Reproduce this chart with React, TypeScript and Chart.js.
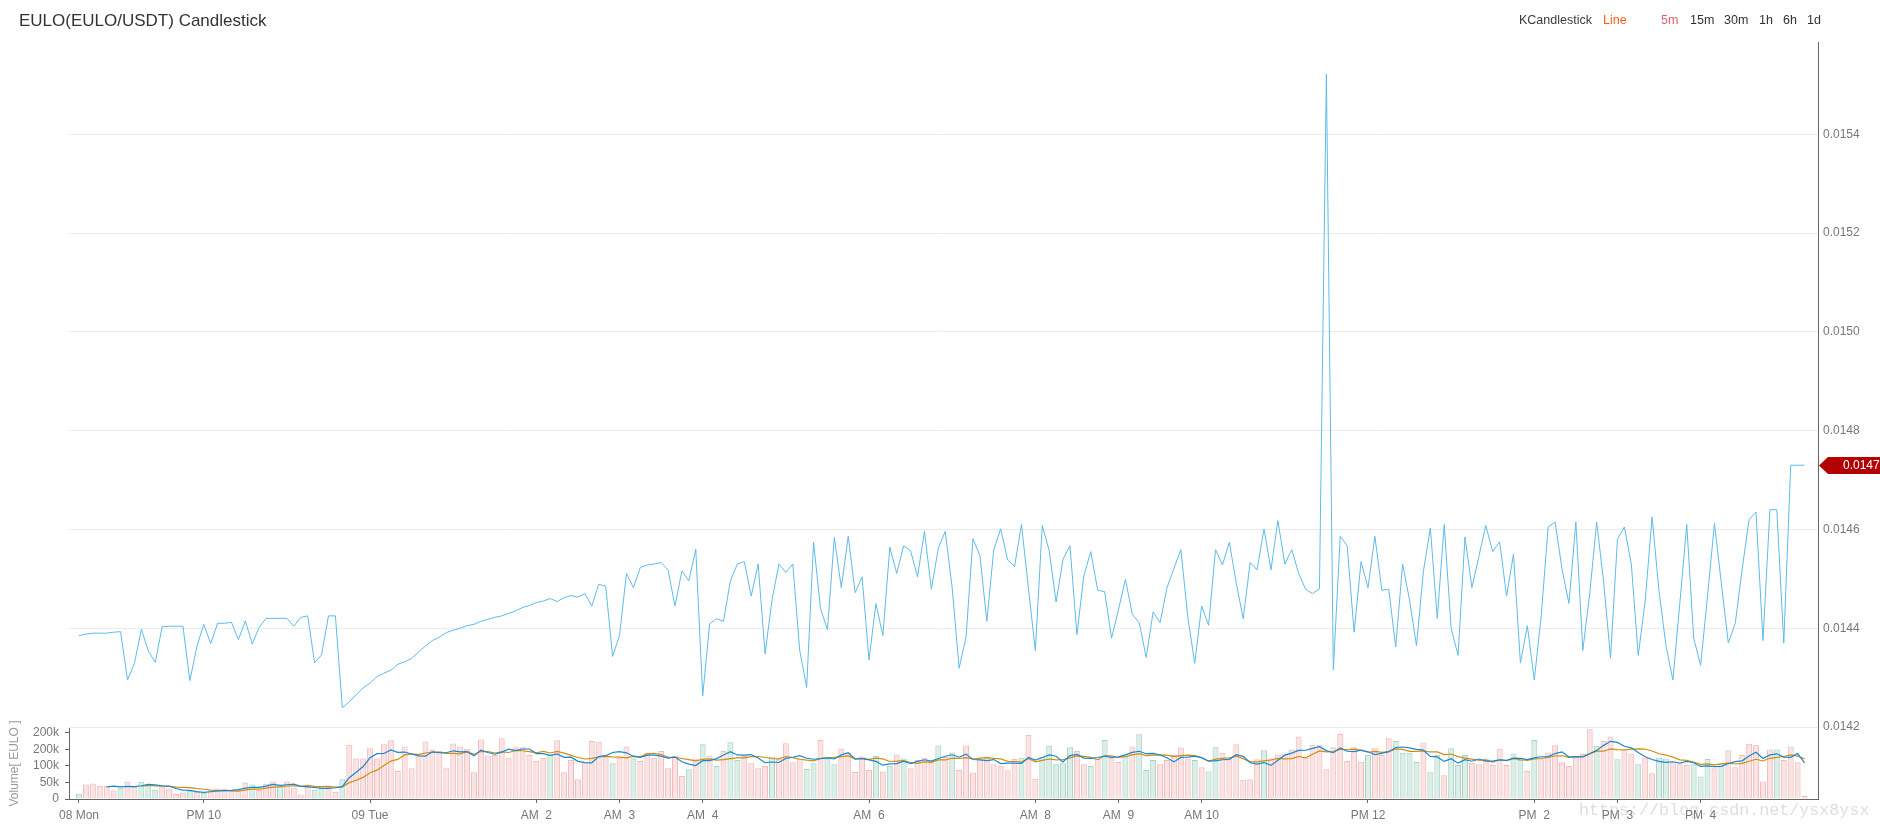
import { useEffect, useRef } from 'react';
import { Chart, registerables } from 'chart.js';

Chart.register(...registerables);

// ---- Data ----
const priceValues = [
  0.014385, 0.014388, 0.01439, 0.01439, 0.01439, 0.014392, 0.014393, 0.014295, 0.014329, 0.014398,
  0.014354, 0.014331, 0.014403, 0.014404, 0.014404, 0.014404, 0.014294, 0.014362, 0.014408, 0.014369,
  0.01441, 0.01441, 0.014412, 0.014377, 0.014415, 0.014368, 0.014402, 0.01442, 0.01442, 0.01442,
  0.01442, 0.014404, 0.014422, 0.014425, 0.01433, 0.014346, 0.014425, 0.014425, 0.014239, 0.014251,
  0.014265, 0.014279, 0.014289, 0.014302, 0.014309, 0.014315, 0.014327, 0.014332, 0.014339, 0.014352,
  0.014364, 0.014375, 0.014382, 0.014391, 0.014396, 0.0144, 0.014405, 0.014408, 0.014414, 0.014418,
  0.014422, 0.014425, 0.01443, 0.014435, 0.014442, 0.014446, 0.014452, 0.014455, 0.01446, 0.014454,
  0.014462, 0.014466, 0.014463, 0.01447, 0.014445, 0.014489, 0.014485, 0.014343, 0.014385, 0.014511,
  0.014482, 0.014523, 0.014528, 0.01453, 0.014533, 0.014518, 0.014445, 0.014516, 0.014496, 0.01456,
  0.014263, 0.014409, 0.014419, 0.014414, 0.014496, 0.01453, 0.014535, 0.014465, 0.01453, 0.014348,
  0.014457, 0.01453, 0.014513, 0.01453, 0.014355, 0.01428, 0.014574, 0.01444, 0.014397, 0.014584,
  0.014482, 0.014586, 0.014472, 0.014504, 0.014336, 0.01445, 0.014385, 0.014564, 0.014511, 0.014567,
  0.014557, 0.014504, 0.014596, 0.014479, 0.014562, 0.014596, 0.014482, 0.014319, 0.014382, 0.014581,
  0.014547, 0.014414, 0.014559, 0.014601, 0.014538, 0.014525, 0.01461, 0.014482, 0.014355, 0.014608,
  0.014557, 0.014453, 0.01454, 0.014567, 0.014387, 0.014506, 0.014555, 0.014477, 0.014474, 0.01438,
  0.014438, 0.014499, 0.014428, 0.014411, 0.014341, 0.014433, 0.014411, 0.014482, 0.014521, 0.014559,
  0.014423, 0.014329, 0.014445, 0.014406, 0.014559, 0.014528, 0.014574, 0.014491, 0.014419, 0.014533,
  0.014518, 0.014601, 0.014518, 0.014618, 0.01453, 0.014559, 0.014511, 0.014479, 0.01447, 0.01448,
  0.015521, 0.014316, 0.014586, 0.014567, 0.014392, 0.014535, 0.014482, 0.014586, 0.014477, 0.014479,
  0.014362, 0.01453, 0.014457, 0.014365, 0.014515, 0.014603, 0.01442, 0.01461, 0.0144, 0.014345,
  0.014585, 0.014482, 0.014545, 0.014608, 0.014555, 0.014575, 0.014465, 0.01455, 0.01433, 0.014405,
  0.014295, 0.014425, 0.014605, 0.014615, 0.01452, 0.01445, 0.014615, 0.014355, 0.01447, 0.014615,
  0.014495, 0.01434, 0.01458, 0.014605, 0.01453, 0.014345, 0.014455, 0.014625, 0.014475, 0.014365,
  0.014295, 0.01445, 0.01461, 0.01438, 0.014325, 0.014465, 0.014612, 0.01449, 0.01437, 0.01441,
  0.01452, 0.01462, 0.014635, 0.014375, 0.01464, 0.01464, 0.01437, 0.01473, 0.01473, 0.01473,
];

// volume in thousands of EULO
const volumeK = [
  16, 44, 47, 39, 39, 26, 34, 52, 37, 52,
  45, 29, 38, 32, 15, 20, 25, 21, 19, 25,
  32, 30, 26, 28, 50, 44, 27, 46, 53, 37,
  53, 35, 14, 44, 28, 40, 36, 22, 60, 164,
  123, 123, 154, 123, 166, 178, 85, 159, 93, 138,
  174, 150, 145, 93, 168, 159, 152, 81, 180, 132,
  133, 184, 126, 157, 157, 133, 115, 124, 133, 178,
  81, 118, 60, 113, 176,
  174, 133, 108, 125, 159, 123, 115, 141, 125, 145,
  93, 131, 70, 90, 123, 166, 132, 100, 145, 172,
  118, 130, 108, 93, 100, 129, 123, 169, 111, 123,
  91, 108, 179, 123, 105, 153, 141, 82, 129, 88,
  130, 83, 101, 135, 123, 93, 118, 125, 115, 162,
  127, 141, 88, 162, 80, 121, 129, 105, 101, 87,
  121, 125, 194, 61, 127, 161, 105, 108, 157, 145,
  105, 100, 121, 179, 125, 112, 131, 159, 196, 88,
  118, 105, 118, 133, 156, 123, 118, 96, 83, 157,
  140, 125, 166, 58,
  60,
  120, 148, 123, 135, 138, 150, 189, 126, 164, 164,
  90, 157, 197, 115, 157, 113, 133, 154, 133, 184,
  176, 140, 140, 112, 171, 81, 133, 72, 154, 103,
  133, 110, 105, 123, 103, 152, 103, 138, 118, 85,
  179, 120, 141, 163, 111, 100, 128, 136, 211, 161,
  176, 189, 120, 152, 138, 105, 125, 78, 125, 123,
  113, 105, 103, 105, 68, 121, 93, 108, 148, 96,
  133, 167, 164, 53, 150, 150, 118, 159, 111, 9,
];

// indices of the falling (green) volume bars; all others are rising (pink)
const fallingBars = [
  0, 6, 9, 10, 11, 16, 18, 25, 29, 34, 35, 38, 68,
  77, 80, 88, 90, 92, 94, 95, 100, 105, 106, 108, 109, 115, 117, 119, 124, 126,
  136, 139, 140, 141, 142, 143, 146, 148, 151, 153, 154, 155, 161, 163, 164,
  171, 186, 190, 191, 192, 193, 195, 196, 198, 199, 200, 207, 208, 210, 219,
  222, 225, 228, 229, 233, 234, 235, 237, 245,
];

const xTickIndex = [0, 18, 42, 66, 78, 90, 114, 138, 150, 162, 186, 210, 222, 234];
const xTickLabels = ['08 Mon', 'PM 10', '09 Tue', 'AM  2', 'AM  3', 'AM  4', 'AM  6', 'AM  8', 'AM  9', 'AM 10', 'PM 12', 'PM  2', 'PM  3', 'PM  4'];
const priceTicks = [0.0142, 0.0144, 0.0146, 0.0148, 0.015, 0.0152, 0.0154];
const volumeTicks = [0, 50000, 100000, 150000, 200000];
const volumeTickLabels = ['0', '50k', '100k', '200k', '200k'];
const periodButtons = ['5m', '15m', '30m', '1h', '6h', '1d'];

const FONT = '"Liberation Sans", Arial, sans-serif';

function movingAverage(values: number[], n: number) {
  const out: { x: number; y: number }[] = [];
  for (let i = n - 1; i < values.length; i++) {
    let s = 0;
    for (let j = i - n + 1; j <= i; j++) s += values[j];
    out.push({ x: i, y: (s / n) * 1000 });
  }
  return out;
}

const lastPricePlugin = {
  id: 'lastPrice',
  afterDraw(chart: any) {
    const s = chart.scales.yPrice;
    const ctx = chart.ctx;
    const v = priceValues[priceValues.length - 1];
    const y = Math.round(s.getPixelForValue(v)) + 0.5;
    const x0 = s.left + 1;
    const h = 8.5;
    ctx.save();
    ctx.fillStyle = '#b30000';
    ctx.beginPath();
    ctx.moveTo(x0, y);
    ctx.lineTo(x0 + 9, y - h);
    ctx.lineTo(chart.width, y - h);
    ctx.lineTo(chart.width, y + h);
    ctx.lineTo(x0 + 9, y + h);
    ctx.closePath();
    ctx.fill();
    ctx.fillStyle = '#ffffff';
    ctx.font = '12px ' + FONT;
    ctx.textBaseline = 'middle';
    ctx.textAlign = 'left';
    ctx.fillText(v.toFixed(4), x0 + 24, y + 0.5);
    ctx.restore();
  },
};

export default function App() {
  const ref = useRef<HTMLCanvasElement>(null);

  useEffect(() => {
    const canvas = ref.current;
    if (!canvas) return;
    const falling = new Set(fallingBars);
    const barBg = volumeK.map((_, i) => (falling.has(i) ? 'rgba(190,225,214,0.55)' : 'rgba(246,200,200,0.5)'));
    const barBorder = volumeK.map((_, i) => (falling.has(i) ? 'rgba(160,205,190,0.9)' : 'rgba(238,170,170,0.8)'));

    const chart = new Chart(canvas, {
      type: 'line',
      data: {
        datasets: [
          {
            type: 'line',
            label: 'Price',
            data: priceValues.map((p, i) => ({ x: i, y: p })),
            xAxisID: 'x',
            yAxisID: 'yPrice',
            borderColor: '#5cbbeb',
            borderWidth: 1,
            pointRadius: 0,
            tension: 0,
            order: 0,
          },
          {
            type: 'line',
            label: 'MA5',
            data: movingAverage(volumeK, 5),
            xAxisID: 'x',
            yAxisID: 'yVol',
            borderColor: '#1a88d0',
            borderWidth: 1.2,
            pointRadius: 0,
            tension: 0,
            order: 1,
          },
          {
            type: 'line',
            label: 'MA10',
            data: movingAverage(volumeK, 10),
            xAxisID: 'x',
            yAxisID: 'yVol',
            borderColor: '#d08e10',
            borderWidth: 1.2,
            pointRadius: 0,
            tension: 0,
            order: 2,
          },
          {
            type: 'bar',
            label: 'Volume',
            data: volumeK.map((v, i) => ({ x: i, y: v * 1000 })),
            xAxisID: 'x',
            yAxisID: 'yVol',
            backgroundColor: barBg,
            borderColor: barBorder,
            borderWidth: 1,
            barPercentage: 0.86,
            categoryPercentage: 1,
            order: 3,
          } as any,
        ],
      },
      options: {
        animation: false,
        responsive: false,
        devicePixelRatio: 1,
        events: [],
        layout: { padding: { top: 42, left: 0, right: 0, bottom: 0 } },
        plugins: {
          legend: { display: false },
          tooltip: { enabled: false },
          title: { display: false },
        },
        scales: {
          x: {
            type: 'linear',
            position: 'bottom',
            offset: false,
            min: -1.443,
            max: 250.94,
            afterBuildTicks: (s: any) => {
              s.ticks = xTickIndex.map((v) => ({ value: v }));
            },
            afterFit: (s: any) => {
              s.height = 34;
            },
            grid: { offset: false, drawOnChartArea: false, drawTicks: true, tickLength: 4, color: '#666' },
            border: { display: true, color: '#666' },
            ticks: {
              autoSkip: false,
              maxRotation: 0,
              minRotation: 0,
              padding: 5,
              color: '#777',
              font: { size: 12, family: FONT },
              callback: (v: any) => {
                const k = xTickIndex.indexOf(Number(v));
                return k >= 0 ? xTickLabels[k] : '';
              },
            },
          },
          yPrice: {
            type: 'linear',
            position: 'right',
            min: 0.0140543,
            max: 0.0155867,
            afterBuildTicks: (s: any) => {
              s.ticks = priceTicks.map((v) => ({ value: v }));
            },
            afterFit: (s: any) => {
              s.width = 62;
            },
            grid: { color: '#ebebeb', drawTicks: false },
            border: { display: true, color: '#666' },
            ticks: {
              autoSkip: false,
              padding: 5,
              color: '#777',
              font: { size: 12, family: FONT },
              callback: (v: any) => Number(v).toFixed(4),
            },
          },
          yTop: {
            type: 'linear',
            position: 'left',
            stack: 'leftStack',
            stackWeight: 686,
            weight: 2,
            min: 0,
            max: 1,
            afterFit: (s: any) => {
              s.width = 69;
            },
            grid: { display: false },
            border: { display: false },
            ticks: { display: false },
          },
          yVol: {
            type: 'linear',
            position: 'left',
            stack: 'leftStack',
            stackWeight: 71,
            weight: 1,
            min: 0,
            max: 215000,
            afterBuildTicks: (s: any) => {
              s.ticks = volumeTicks.map((v) => ({ value: v }));
            },
            afterFit: (s: any) => {
              s.width = 69;
            },
            grid: { drawOnChartArea: false, drawTicks: true, tickLength: 4, color: '#666' },
            border: { display: true, color: '#666' },
            ticks: {
              autoSkip: false,
              padding: 6,
              color: '#777',
              font: { size: 12, family: FONT },
              callback: (v: any) => {
                const k = volumeTicks.indexOf(Number(v));
                return k >= 0 ? volumeTickLabels[k] : '';
              },
            },
            title: {
              display: true,
              text: 'Volume[ EULO ]',
              color: '#999',
              font: { size: 12, family: FONT },
              padding: { top: 7, bottom: 0 },
            },
          },
        },
      } as any,
      plugins: [lastPricePlugin],
    });
    return () => chart.destroy();
  }, []);

  const btnX = [1661, 1690, 1724, 1759, 1783, 1807];

  return (
    <div
      style={{
        position: 'fixed',
        left: 0,
        top: 0,
        width: 1880,
        height: 833,
        background: '#ffffff',
        overflow: 'hidden',
        fontFamily: FONT,
      }}
    >
      <canvas
        ref={ref}
        width={1880}
        height={833}
        style={{ position: 'absolute', left: 0, top: 0, width: 1880, height: 833 }}
      />
      <div style={{ position: 'absolute', left: 19, top: 12, fontSize: 17, lineHeight: '17px', color: '#333', whiteSpace: 'nowrap' }}>
        EULO(EULO/USDT) Candlestick
      </div>
      <div style={{ position: 'absolute', left: 1519, top: 14, fontSize: 12.5, lineHeight: '12.5px', color: '#3a3a3a', whiteSpace: 'nowrap' }}>
        KCandlestick
      </div>
      <div style={{ position: 'absolute', left: 1603, top: 14, fontSize: 12.5, lineHeight: '12.5px', color: '#ff5a1a', whiteSpace: 'nowrap' }}>
        Line
      </div>
      {periodButtons.map((b, i) => (
        <div
          key={b}
          style={{
            position: 'absolute',
            left: btnX[i],
            top: 14,
            fontSize: 12.5,
            lineHeight: '12.5px',
            color: i === 0 ? '#e8606a' : '#333',
            whiteSpace: 'nowrap',
          }}
        >
          {b}
        </div>
      ))}
      <div
        style={{
          position: 'absolute',
          left: 1579,
          top: 801,
          fontSize: 16.7,
          lineHeight: '20px',
          fontFamily: '"Liberation Mono", monospace',
          color: 'rgba(160,160,160,0.35)',
          whiteSpace: 'nowrap',
        }}
      >
        https://blog.csdn.net/ysx8ysx
      </div>
    </div>
  );
}
